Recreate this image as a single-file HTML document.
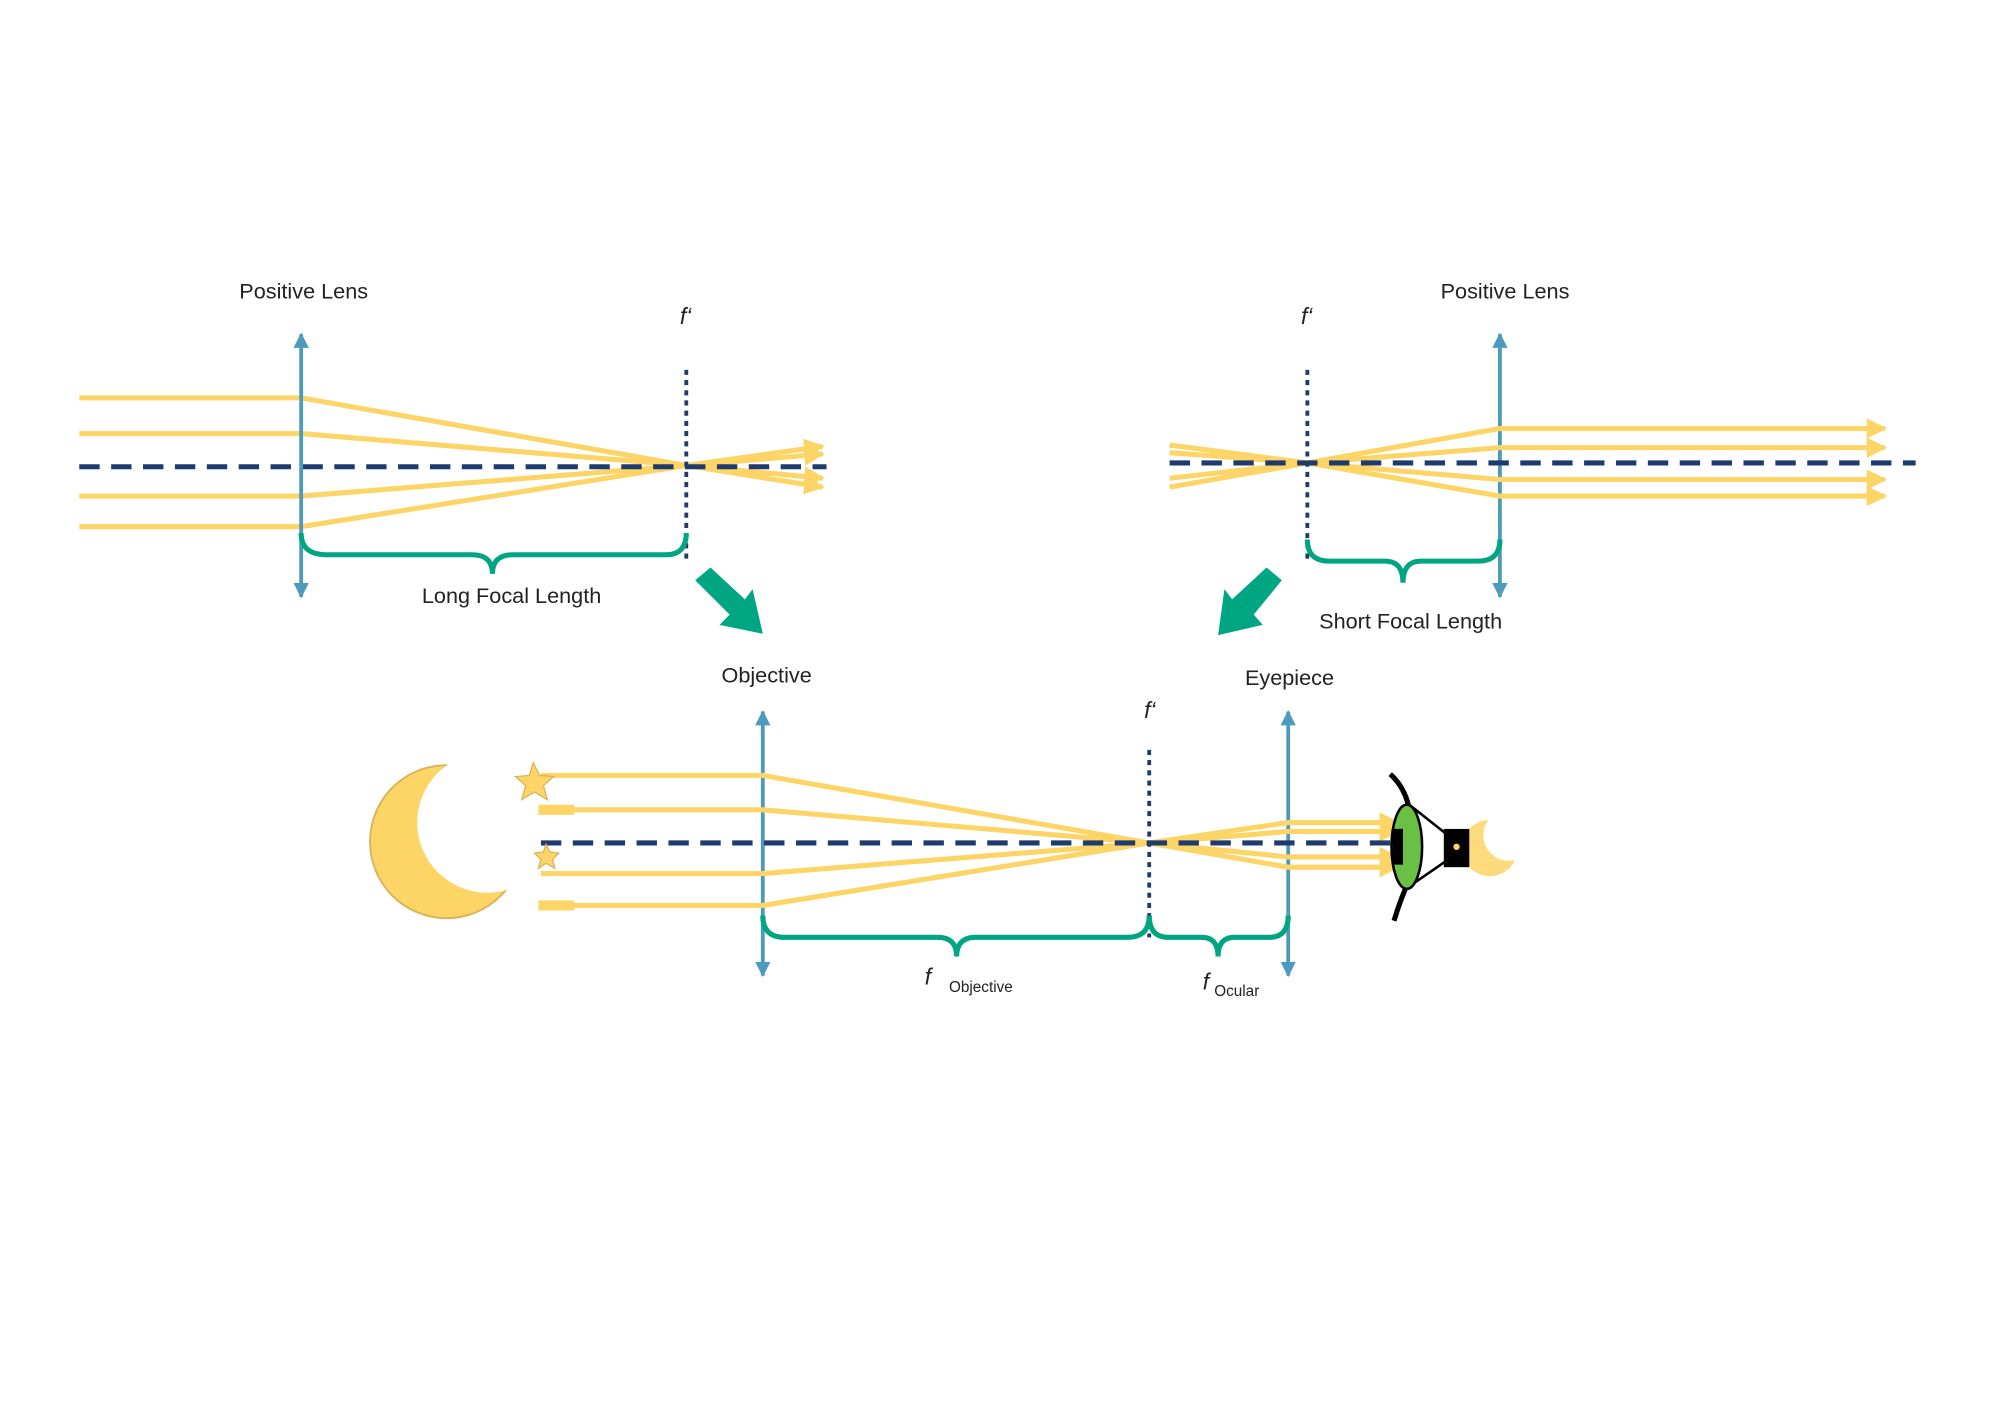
<!DOCTYPE html>
<html><head><style>html,body{margin:0;padding:0;background:#fff}svg{display:block}</style></head><body>
<svg width="2000" height="1413" viewBox="0 0 1568 1108" xmlns="http://www.w3.org/2000/svg" font-family="Liberation Sans, sans-serif">
<defs>
<marker id="ya" viewBox="0 0 10 10" refX="9" refY="5" markerWidth="5" markerHeight="4" orient="auto" markerUnits="strokeWidth"><path d="M0,0L10,5L0,10z" fill="#fdd466"/></marker>
<marker id="ba" viewBox="0 0 10 10" refX="9" refY="5" markerWidth="4" markerHeight="4" orient="auto" markerUnits="strokeWidth"><path d="M0,0L10,5L0,10z" fill="#4c9bbd"/></marker>
<mask id="m1"><rect x="250" y="560" width="200" height="200" fill="#fff"/><circle cx="382" cy="645" r="55" fill="#000"/></mask>
<mask id="m2"><rect x="1140" y="620" width="80" height="80" fill="#fff"/><circle cx="1183" cy="655" r="20" fill="#000"/></mask>
</defs>
<g fill="none" stroke-linecap="butt">
<g stroke="#fdd466" stroke-width="4">
<path d="M62,312H236L538,365L645,350" marker-end="url(#ya)"/>
<path d="M62,340H236L538,365L645,356" marker-end="url(#ya)"/>
<path d="M62,389H236L538,365L645,375" marker-end="url(#ya)"/>
<path d="M62,413H236L538,365L645,382" marker-end="url(#ya)"/>
</g>
<path d="M62,366H648" stroke="#1f3b6e" stroke-width="4" stroke-dasharray="16,9"/>
<path d="M538,290V440" stroke="#1f3b6e" stroke-width="3" stroke-dasharray="4,4"/>
<g stroke="#4c9bbd" stroke-width="3">
<path d="M236,366V262" marker-end="url(#ba)"/><path d="M236,366V468" marker-end="url(#ba)"/>
<path d="M1176,363V262" marker-end="url(#ba)"/><path d="M1176,363V468" marker-end="url(#ba)"/>
<path d="M598,661V558" marker-end="url(#ba)"/><path d="M598,661V765" marker-end="url(#ba)"/>
<path d="M1010,661V558" marker-end="url(#ba)"/><path d="M1010,661V765" marker-end="url(#ba)"/>
</g>
<path d="M236,418Q236,435 256,435H370Q386,435 386,450Q386,435 402,435H522Q538,435 538,418" stroke="#00a682" stroke-width="4"/>
<g stroke="#fdd466" stroke-width="4">
<path d="M917,349L1025,363L1176,336H1478" marker-end="url(#ya)"/>
<path d="M917,355L1025,363L1176,351H1478" marker-end="url(#ya)"/>
<path d="M917,375L1025,363L1176,376H1478" marker-end="url(#ya)"/>
<path d="M917,382L1025,363L1176,389H1478" marker-end="url(#ya)"/>
</g>
<path d="M917,363H1502" stroke="#1f3b6e" stroke-width="4" stroke-dasharray="16,9"/>
<path d="M1025,290V440" stroke="#1f3b6e" stroke-width="3" stroke-dasharray="4,4"/>
<path d="M1025,423Q1025,440 1042,440H1086Q1100,440 1100,457Q1100,440 1114,440H1159Q1176,440 1176,423" stroke="#00a682" stroke-width="4"/>
<g stroke="#fdd466" stroke-width="4">
<path d="M424,608H598L901,661L1010,645H1096" marker-end="url(#ya)"/>
<path d="M424,635H598L901,661L1010,652H1096" marker-end="url(#ya)"/>
<path d="M424,685H598L901,661L1010,672H1096" marker-end="url(#ya)"/>
<path d="M424,710H598L901,661L1010,680H1096" marker-end="url(#ya)"/>
</g>
<path d="M422,635H450M422,710H450" stroke="#fdd466" stroke-width="8"/>
<path d="M424,661H1095" stroke="#1f3b6e" stroke-width="4" stroke-dasharray="16,9"/>
<path d="M901,588V735" stroke="#1f3b6e" stroke-width="3" stroke-dasharray="4,4"/>
<path d="M598,718Q598,735 615,735H735Q750,735 750,750Q750,735 765,735H884Q901,735 901,718" stroke="#00a682" stroke-width="4"/>
<path d="M901,718Q901,735 916,735H942Q955,735 955,750Q955,735 968,735H995Q1010,735 1010,718" stroke="#00a682" stroke-width="4"/>
</g>
<path d="M545,455L557,445L584,470L590,462L598,497L564,490L572,482Z" fill="#00a682"/>
<path d="M1005,455L993,445L966,470L960,462L955,498L990,490L983,482Z" fill="#00a682"/>
<circle cx="350" cy="660" r="60" fill="#fdd466" stroke="#d8b45a" stroke-width="1.5" mask="url(#m1)"/>
<path d="M418,598l5,10 11,1 -8,7 3,11 -10,-6 -10,6 3,-11 -8,-7 11,-1z" fill="#fdd466" stroke="#d8b45a"/>
<path d="M428,662l3,6 7,1 -5,5 2,7 -7,-4 -6,4 2,-7 -5,-5 7,-1z" fill="#fdd466" stroke="#d8b45a"/>
<path d="M1090,607Q1102,618 1105,635M1105,690Q1098,705 1093,722" stroke="#000" stroke-width="4" fill="none"/>
<path d="M1105,631L1134,654V675L1105,695" stroke="#000" stroke-width="2" fill="none"/>
<ellipse cx="1103" cy="664" rx="12" ry="33" fill="#6abf45" stroke="#000" stroke-width="2"/>
<path d="M1092,650h8v28h-8z" fill="#000"/>
<circle cx="1168" cy="665" r="22" fill="#fdd466" opacity="0.85" mask="url(#m2)"/>
<rect x="1132" y="650" width="20" height="30" fill="#000"/>
<circle cx="1142" cy="664" r="2.5" fill="#fdd466"/>
<g font-size="17" fill="#222" text-anchor="middle">
<text x="238" y="234">Positive Lens</text>
<text x="1180" y="234">Positive Lens</text>
<text x="401" y="473">Long Focal Length</text>
<text x="1106" y="493">Short Focal Length</text>
<text x="601" y="535">Objective</text>
<text x="1011" y="537">Eyepiece</text>
</g>
<g font-size="18" font-style="italic" fill="#222">
<text x="533" y="254">f‘</text>
<text x="1020" y="254">f‘</text>
<text x="897" y="563">f‘</text>
<text x="725" y="772">f</text>
<text x="943" y="776">f</text>
</g>
<g font-size="12" fill="#222">
<text x="744" y="778">Objective</text>
<text x="952" y="781">Ocular</text>
</g>
</svg>
</body></html>
